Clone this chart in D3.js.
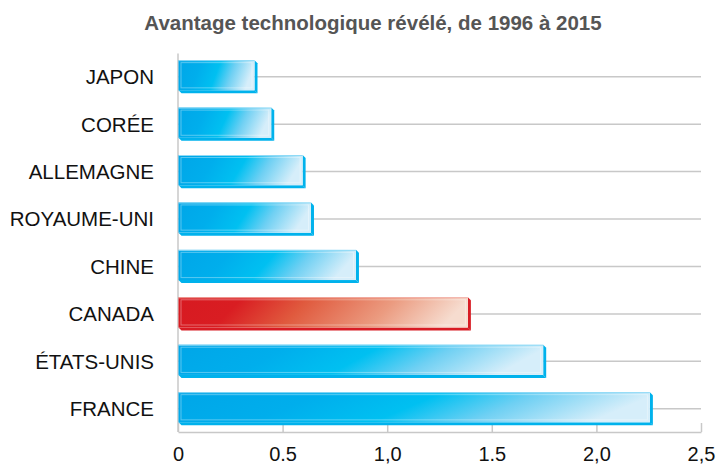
<!DOCTYPE html>
<html>
<head>
<meta charset="utf-8">
<script src="https://cdn.jsdelivr.net/npm/d3@7"></script>
<style>
  body { margin: 0; background: #fff; }
  text { font-family: "Liberation Sans", Arial, sans-serif; }
</style>
</head>
<body>
<div id="chart"></div>
<script>
// Avantage technologique révélé, de 1996 à 2015
const width = 717, height = 466, margin = {top: 53.5, right: 16, bottom: 34, left: 178};

const countries = ["JAPON", "CORÉE", "ALLEMAGNE", "ROYAUME-UNI", "CHINE", "CANADA", "ÉTATS-UNIS", "FRANCE"];
const values = [0.38, 0.46, 0.61, 0.65, 0.865, 1.40, 1.76, 2.27];
const highlight = "CANADA";
const tickValues = [0, 0.5, 1, 1.5, 2, 2.5];
const tickLabels = ["0", "0.5", "1,0", "1.5", "2,0", "2,5"];

const data = countries.map((c, i) => ({country: c, value: values[i]}));

const svg = d3.select("#chart").append("svg")
  .attr("width", width).attr("height", height);

const defs = svg.append("defs");
const blue = defs.append("linearGradient").attr("id", "gBlue")
  .attr("x1", 0).attr("y1", 0).attr("x2", 1).attr("y2", 0.15);
blue.append("stop").attr("offset", "0%").attr("stop-color", "#00a6e8");
blue.append("stop").attr("offset", "30%").attr("stop-color", "#00aeec");
blue.append("stop").attr("offset", "55%").attr("stop-color", "#00c0f1");
blue.append("stop").attr("offset", "75%").attr("stop-color", "#6fd0f3");
blue.append("stop").attr("offset", "100%").attr("stop-color", "#d6eefa");
const red = defs.append("linearGradient").attr("id", "gRed")
  .attr("x1", 0).attr("y1", 0).attr("x2", 1).attr("y2", 0.1);
red.append("stop").attr("offset", "0%").attr("stop-color", "#d71a21");
red.append("stop").attr("offset", "22%").attr("stop-color", "#d91d22");
red.append("stop").attr("offset", "45%").attr("stop-color", "#e05a3e");
red.append("stop").attr("offset", "75%").attr("stop-color", "#eb9b80");
red.append("stop").attr("offset", "100%").attr("stop-color", "#f6dccf");

const x = d3.scaleLinear().domain([0, 2.5]).range([margin.left, width - margin.right]);
const y = d3.scaleBand().domain(countries).range([margin.top, height - margin.bottom])
  .paddingInner(0.3).paddingOuter(0.14);

// title
svg.append("text").attr("x", 373).attr("y", 30)
  .attr("text-anchor", "middle").attr("font-size", 20.5).attr("font-weight", "bold")
  .attr("fill", "#555").text("Avantage technologique révélé, de 1996 à 2015");

// gridlines at bar centers
svg.append("g").selectAll("line").data(countries).join("line")
  .attr("x1", x(0)).attr("x2", x(2.5))
  .attr("y1", d => y(d) + y.bandwidth() / 2).attr("y2", d => y(d) + y.bandwidth() / 2)
  .attr("stroke", "#c8c8c8").attr("stroke-width", 1.5);

// vertical axis line
svg.append("line").attr("x1", x(0)).attr("x2", x(0))
  .attr("y1", margin.top).attr("y2", height - margin.bottom)
  .attr("stroke", "#c8c8c8").attr("stroke-width", 1.5);

// bottom axis: ticks pointing up
const xAxis = svg.append("g").attr("transform", `translate(0,${height - margin.bottom})`)
  .call(d3.axisBottom(x).tickValues(tickValues).tickSize(-9).tickSizeOuter(0)
    .tickFormat((d, i) => tickLabels[i]));
xAxis.select(".domain").attr("stroke", "#c8c8c8").attr("stroke-width", 1.5);
xAxis.selectAll(".tick line").attr("stroke", "#c8c8c8").attr("stroke-width", 1.5);
xAxis.selectAll(".tick text").attr("font-size", 20).attr("fill", "#111")
  .attr("font-family", "Liberation Sans, Arial, sans-serif").attr("y", 15);

// category labels
svg.append("g").selectAll("text").data(countries).join("text")
  .attr("x", 154).attr("y", d => y(d) + y.bandwidth() / 2)
  .attr("dy", "0.36em").attr("text-anchor", "end").attr("font-size", 20.5)
  .attr("fill", "#111").text(d => d);

// bars with bevel
const bev = 3;
const bars = svg.append("g").selectAll("g").data(data).join("g");
bars.each(function (d) {
  const g = d3.select(this);
  const isRed = d.country === highlight;
  const x0 = x(0) + 0.5, x1 = x(d.value), y0 = y(d.country), y1 = y0 + y.bandwidth();
  const edge = isRed ? "#d81c24" : "#00b2ec";
  const light = isRed ? "#f2a9a0" : "#8fdaf6";
  // right face
  g.append("polygon").attr("fill", edge)
    .attr("points", [[x1 - bev, y0], [x1, y0 + bev], [x1, y1], [x1 - bev, y1 - bev]].join(" "));
  // bottom face
  g.append("polygon").attr("fill", edge)
    .attr("points", [[x0, y1 - bev], [x1 - bev, y1 - bev], [x1, y1], [x0 + bev, y1]].join(" "));
  // front face
  g.append("rect").attr("x", x0).attr("y", y0)
    .attr("width", x1 - bev - x0).attr("height", y1 - bev - y0)
    .attr("fill", isRed ? "url(#gRed)" : "url(#gBlue)");
  // top highlight
  g.append("line").attr("x1", x0).attr("x2", x1 - bev).attr("y1", y0 + 0.5).attr("y2", y0 + 0.5)
    .attr("stroke", light).attr("stroke-width", 1);
  // inner highlight line
  g.append("rect").attr("x", x0 + 2.5).attr("y", y0 + 2.5)
    .attr("width", x1 - bev - x0 - 5).attr("height", y1 - bev - y0 - 5)
    .attr("fill", "none").attr("stroke", "#fff").attr("stroke-opacity", 0.35).attr("stroke-width", 1);
});
</script>
</body>
</html>
